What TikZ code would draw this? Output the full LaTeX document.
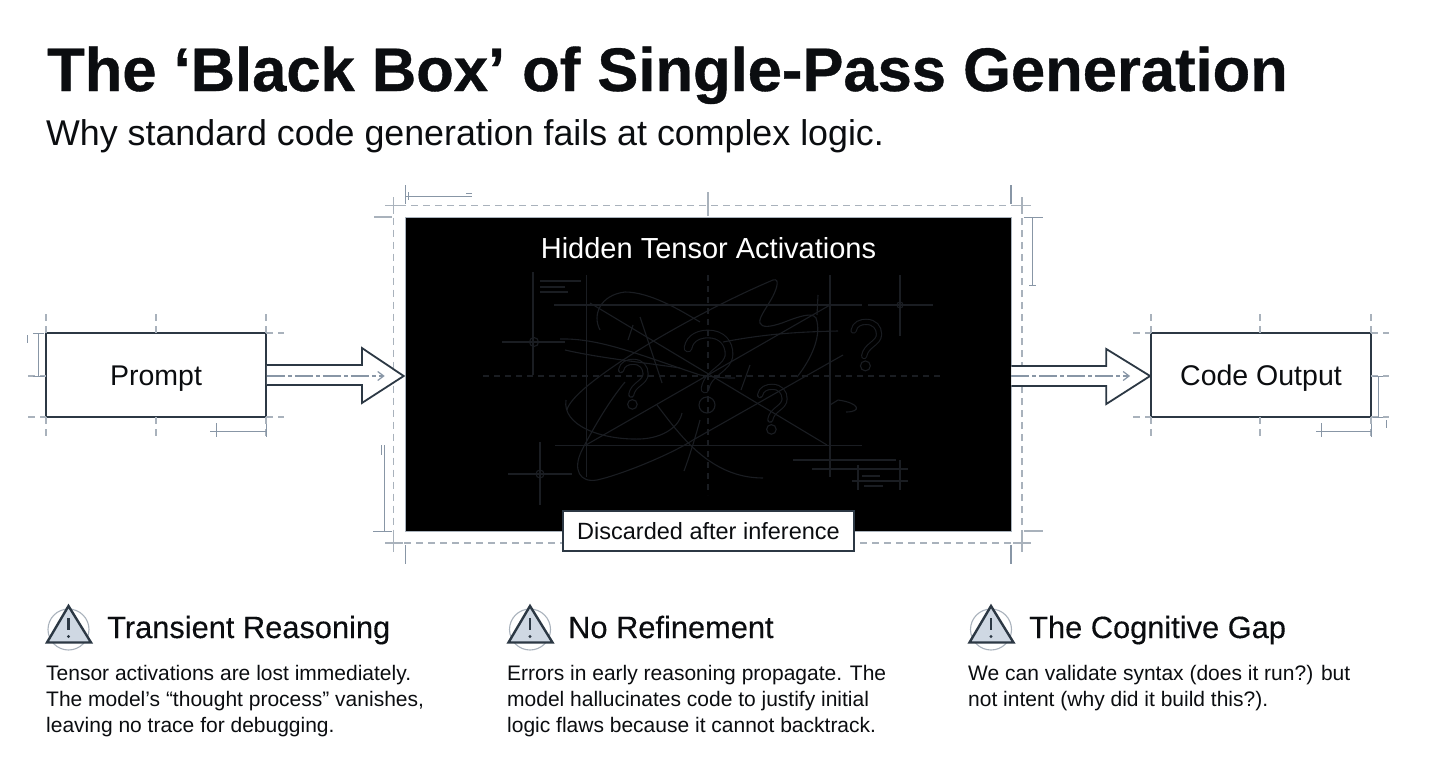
\documentclass[tikz,border=0pt]{standalone}
\usepackage{fontspec}
\setmainfont{Liberation Sans}
\newfontfamily\headfont[FakeBold=0.25]{Liberation Sans}
\newfontfamily\titlefont[FakeBold=0.6]{Liberation Sans Bold}
\usetikzlibrary{calc,arrows.meta}
\definecolor{ink}{HTML}{0B0D10}
\definecolor{edgeink}{HTML}{2C3844}
\definecolor{guide}{HTML}{A9B2BC}
\definecolor{dimline}{HTML}{8896A6}
\definecolor{ghost}{HTML}{1A1D22}
\definecolor{warnfill}{HTML}{CFD8E3}
\tikzset{
  titletext/.style={anchor=base west,inner sep=0,text=ink,font=\titlefont\fontsize{61.5}{62}\selectfont},
  subtext/.style={anchor=base west,inner sep=0,text=ink,font=\fontsize{35.8}{38}\selectfont},
  headtext/.style={anchor=base west,inner sep=0,text=ink,font=\headfont\fontsize{30.8}{32}\selectfont},
  bodytext/.style={anchor=north west,inner sep=0,align=left,text=ink,font=\fontsize{21}{26}\selectfont},
  flowbox/.style={draw=edgeink,line width=1.8pt,fill=white,minimum width=220pt,minimum height=84pt,inner sep=0,text=ink,font=\fontsize{28.5}{30}\selectfont},
  blockarrow/.style={draw=edgeink,line width=1.8pt,fill=white,line join=miter},
  flowaxis/.style={draw=dimline,line width=1.2pt,dash pattern=on 18pt off 3pt on 4pt off 3pt,-{Straight Barb[length=6pt,width=9pt]}},
  guideline/.style={draw=guide,line width=1.1pt,dash pattern=on 7pt off 5pt},
  tick/.style={draw=guide,line width=1.1pt},
  darktick/.style={draw=dimline,line width=1.1pt},
  dimen/.style={draw=dimline,line width=1pt},
  ghostline/.style={draw=ghost,line width=1.1pt},
  ghostdash/.style={draw=ghost,line width=1.1pt,dash pattern=on 6pt off 5pt},
  qoutline/.style={draw=ghost,line cap=round,double=black,line width=1.1pt},
  warntri/.style={draw=edgeink,line width=2.4pt,fill=warnfill,line join=miter},
  warnring/.style={draw=guide,line width=1.1pt},
}
% outlined question mark; #1,#2 top of the bowl, #3 size factor
\newcommand{\qmark}[3]{%
  \begin{scope}[shift={(#1,#2)},scale=#3]
    \draw[qoutline,double distance=#3*6.5pt] (-20,17) .. controls (-18,6) and (-8,3) .. (0,3) .. controls (14,3) and (21,12) .. (21,23) .. controls (21,38) and (0,40) .. (-3,58);
    \draw[ghostline] (-1,74) circle (8);
  \end{scope}%
}
% warning sign; #1 is the horizontal offset of the icon
\newcommand{\warnsign}[1]{%
  \begin{scope}[shift={(#1,0)}]
    \draw[warnring] (68.5,629.5) circle (20.5);
    \draw[warntri] (68.5,606) -- (91,642.5) -- (47,642.5) -- cycle;
    \draw[edgeink,line width=2.6pt] (68.5,618) -- (68.5,630);
    \fill[edgeink] (68.5,636.5) circle (1.7);
  \end{scope}%
}
\begin{document}
\begin{tikzpicture}[x=1pt,y=-1pt]
\useasboundingbox (0,0) rectangle (1432,763);
\fill[white] (0,0) rectangle (1432,763);

\node[titletext] (title) at (47,91) {The ‘Black Box’ of Single-Pass Generation};
\node[subtext] (subtitle) at (46,145) {Why standard code generation fails at complex logic.};

% construction frame around the central block
\draw[guideline] (393.5,205.5) rectangle (1022,543);
\draw[tick] (385,205.5) -- (403,205.5) (393.5,197) -- (393.5,214);
\draw[tick] (1013,205.5) -- (1031,205.5) (1022,197) -- (1022,214);
\draw[tick] (385,543) -- (403,543) (393.5,535) -- (393.5,552);
\draw[tick] (1013,543) -- (1031,543) (1022,535) -- (1022,552);
\draw[tick] (374,217) -- (392,217);
\draw[tick] (1024,531) -- (1043,531);
\draw[darktick] (405.7,185) -- (405.7,204);
\draw[darktick] (1011,185) -- (1011,204);
\draw[darktick] (405.7,545) -- (405.7,564);
\draw[darktick] (1011,545) -- (1011,564);
\draw[tick] (708,192) -- (708,216);

% central block
\node[fill=black,draw=guide,line width=.6pt,minimum width=606pt,minimum height=314pt,inner sep=0] (core) at (708,374) {};

% question marks sit under the faint sketch lines
\qmark{633}{360}{.6}
\qmark{708}{331}{1}
\qmark{866}{320}{.62}
\qmark{772}{385}{.6}

% faint sketch inside the block
\draw[ghostline] (533,272) -- (533,375) (502,342) -- (565,342);
\draw[ghostline] (534,342) circle (4.5);
\draw[ghostline] (540,281) -- (581,281) (540,287) -- (565,287) (540,292) -- (568,292);
\draw[ghostline] (586.5,275) -- (586.5,477);
\draw[ghostline] (830,275) -- (830,477);
\draw[ghostline] (554,305) -- (862,305) (868,305) -- (933,305);
\draw[ghostline] (900,275) -- (900,336);
\draw[ghostline] (900,305) circle (3);
\draw[ghostdash] (483,376) -- (940,376);
\draw[ghostdash] (708,275) -- (708,495);
\draw[ghostline] (555,445.5) -- (862,445.5);
\draw[ghostline] (793,460) -- (896,460) (812,469) -- (908,469) (852,481) -- (908,481);
\draw[ghostline] (858,465) -- (858,490) (900,460) -- (900,490);
\draw[ghostline] (862,476) -- (880,476) (864,486) -- (883,486);
\draw[ghostline] (508,474) -- (572,474) (540,442) -- (540,505);
\draw[ghostline] (540,474) circle (4);
\draw[ghostline] (590,303) -- (827,445);
\draw[ghostline] (830,305) -- (586,445);
\draw[ghostline] (843,355) -- (693,440);
\draw[ghostline] (567,410) .. controls (572,385) and (690,315) .. (773,280) .. controls (780,278) and (777,288) .. (773,296) .. controls (768,306) and (758,318) .. (760,323) .. controls (762,328) and (770,327) .. (782,323) .. controls (800,316) and (812,312) .. (816,318) .. controls (822,335) and (812,358) .. (797,377);
\draw[ghostline] (723,342) .. controls (760,335) and (790,332) .. (838,331);
\draw[ghostline] (693,440) .. controls (670,455) and (620,475) .. (597,480) .. controls (580,483) and (572,470) .. (582,450) .. controls (595,425) and (610,400) .. (625,382);
\draw[ghostline] (657,405) .. controls (680,435) and (710,478) .. (763,478);
\draw[ghostline] (566,400) .. controls (562,425) and (600,440) .. (640,439) .. controls (665,438) and (680,425) .. (682,413);
\draw[ghostline] (600,330) .. controls (592,315) and (600,295) .. (625,292) .. controls (650,292) and (680,310) .. (700,322);
\draw[ghostline] (560,339) .. controls (600,338) and (640,355) .. (700,375) .. controls (720,378) and (725,378) .. (735,378);
\draw[ghostline] (565,350) .. controls (600,358) and (640,362) .. (680,368);
\draw[ghostline] (640,317) -- (662,383) (633,325) -- (628,340);
\draw[ghostline] (817,315) -- (818,295);
\draw[ghostline] (838,400) .. controls (860,403) and (862,412) .. (846,412);
\draw[ghostline] (838,400) -- (830,405);
\draw[ghostline] (750,365) -- (741,390);
\draw[ghostline] (700,420) .. controls (696,435) and (690,455) .. (684,471);

\node[anchor=base,inner sep=0,text=white,font=\fontsize{29}{30}\selectfont] (hidden) at (708.5,258) {Hidden Tensor Activations};

% label on the lower edge of the block
\node[draw=edgeink,line width=1.2pt,fill=white,minimum width=291pt,minimum height=40pt,inner sep=0,text=ink,font=\fontsize{23.5}{26}\selectfont] (discard) at (708.5,531) {Discarded after inference};

% flow boxes; the struts set the text's height above its baseline
\node[flowbox] (prompt) at (156,375) {\raisebox{0pt}[20pt][0pt]{Prompt}};
\node[flowbox] (output) at (1261,375) {\raisebox{0pt}[20pt][0pt]{Code Output}};

% guides around the prompt box
\draw[guideline] (46,314) -- (46,333) (46,417) -- (46,437);
\draw[guideline] (156,314) -- (156,333) (156,417) -- (156,437);
\draw[guideline] (266,314) -- (266,333) (266,417) -- (266,437);
\draw[guideline] (266,333) -- (284,333) (266,417) -- (284,417);
\draw[guideline] (28,417) -- (46,417) (28,376) -- (46,376);
\draw[dimen] (38,333) -- (38,376) (33,333) -- (44,333) (33,376) -- (44,376);
\draw[dimen] (210,431) -- (266,431) (216,423) -- (216,437) (266,424) -- (266,437);
\draw[dimen] (27,335) -- (27,343);

% guides around the output box
\draw[guideline] (1151,314) -- (1151,333) (1151,417) -- (1151,437);
\draw[guideline] (1260,314) -- (1260,333) (1260,417) -- (1260,437);
\draw[guideline] (1371,314) -- (1371,333) (1371,417) -- (1371,437);
\draw[guideline] (1133,333) -- (1151,333) (1133,417) -- (1151,417);
\draw[guideline] (1371,333) -- (1389,333) (1371,417) -- (1389,417) (1371,376) -- (1389,376);
\draw[dimen] (1378,376) -- (1378,417) (1373,376) -- (1383,376) (1373,417) -- (1383,417);
\draw[dimen] (1316,431) -- (1371,431) (1321,423) -- (1321,437) (1371,424) -- (1371,437);
\draw[dimen] (1386,420) -- (1386,428);

% dimension lines around the block
\draw[dimen] (406,196) -- (472,196) (408,192) -- (408,200) (466,193) -- (472,193);
\draw[dimen] (1032,217) -- (1032,286) (1024,217) -- (1043,217) (1029,285) -- (1036,285);
\draw[dimen] (384,445) -- (384,531) (373,531) -- (392,531) (381,445) -- (381,455);

% arrows between the parts
\draw[blockarrow] ($(prompt.east)+(0,-10)$) -- ($(prompt.east)+(95,-10)$) -- ($(prompt.east)+(95,-27)$) -- ($(core.west)+(-1,2)$) -- ($(prompt.east)+(95,28)$) -- ($(prompt.east)+(95,10)$) -- ($(prompt.east)+(0,10)$);
\draw[flowaxis] ($(prompt.east)+(0,1)$) -- ($(core.west)+(-20,2)$);
\draw[blockarrow] ($(core.east)+(0,-8)$) -- ($(core.east)+(95,-8)$) -- ($(core.east)+(95,-25)$) -- ($(output.west)+(0,1)$) -- ($(core.east)+(95,30)$) -- ($(core.east)+(95,12)$) -- ($(core.east)+(0,12)$);
\draw[flowaxis] ($(core.east)+(0,2)$) -- ($(output.west)+(-20,1)$);

% notes along the bottom
\warnsign{0}
\warnsign{461.5}
\warnsign{922.5}
\node[headtext] (h1) at (107,638) {Transient Reasoning};
\node[headtext] (h2) at (568,638) {No Refinement};
\node[headtext] (h3) at (1029,638) {The Cognitive Gap};
\node[bodytext] (b1) at (46,665) {Tensor activations are lost immediately.\\The model’s “thought process” vanishes,\\leaving no trace for debugging.};
\node[bodytext] (b2) at (507,665) {Errors in early reasoning propagate. The\\model hallucinates code to justify initial\\logic flaws because it cannot backtrack.};
\node[bodytext] (b3) at (968,665) {We can validate syntax (does it run?) but\\not intent (why did it build this?).};
\end{tikzpicture}
\end{document}
